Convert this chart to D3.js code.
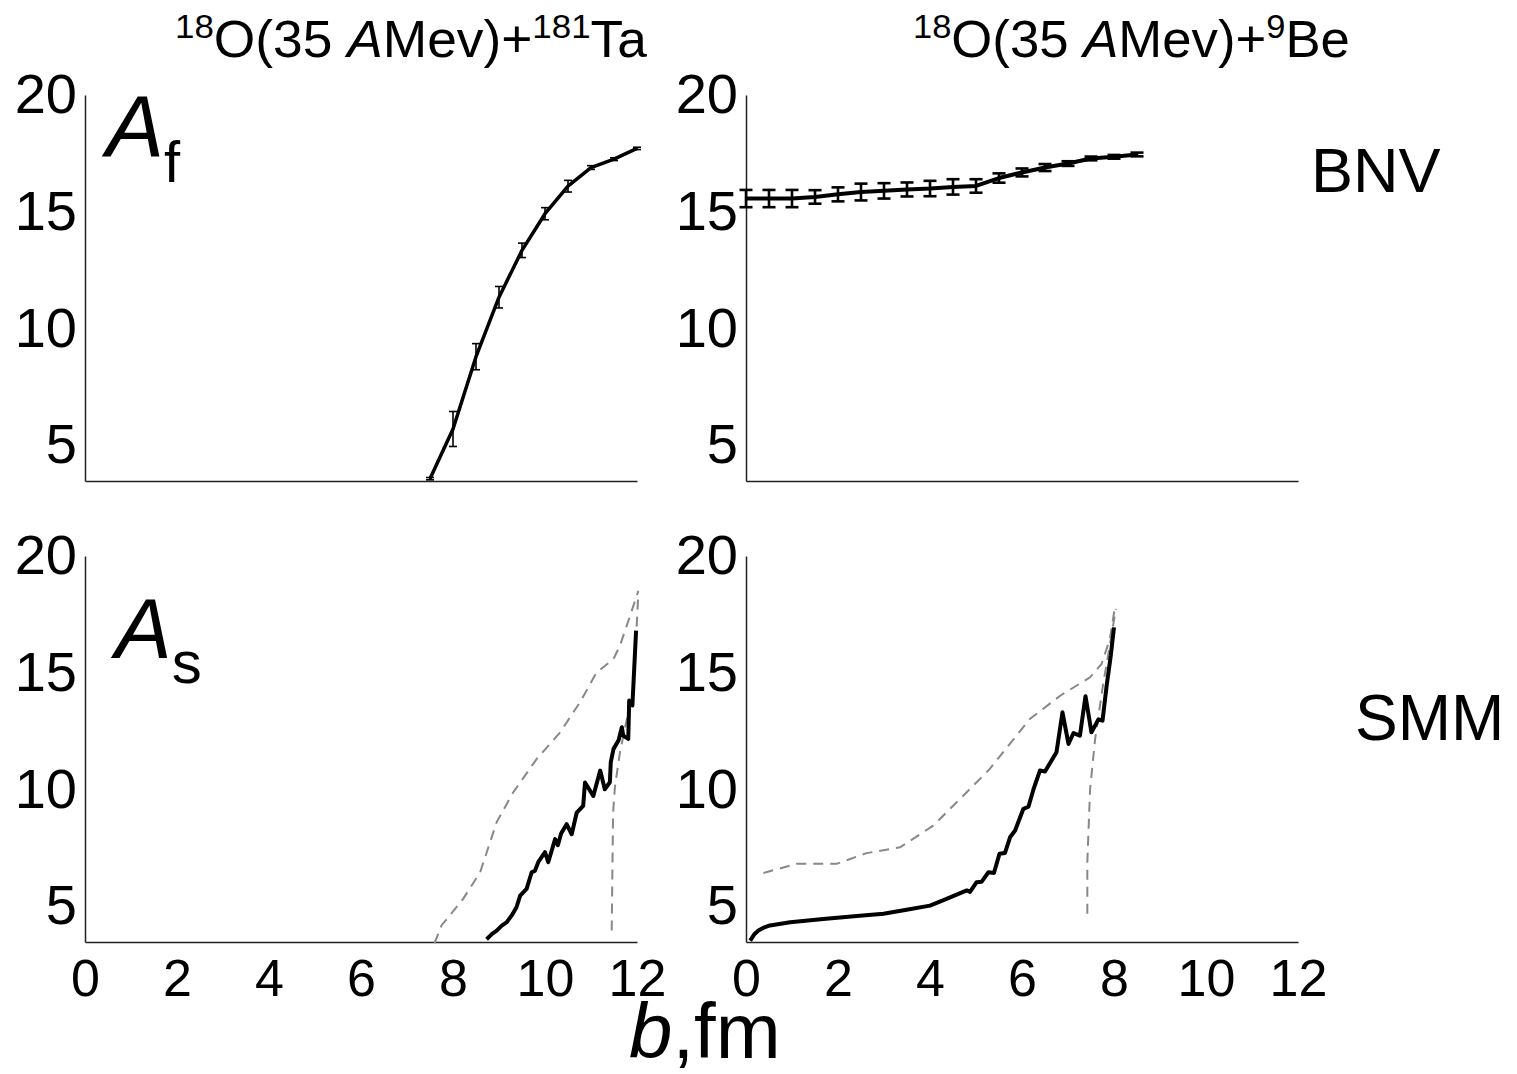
<!DOCTYPE html>
<html>
<head>
<meta charset="utf-8">
<script src="https://cdn.jsdelivr.net/npm/d3@7"></script>
<style>
  body { margin: 0; background: #fff; }
  text { font-family: "Liberation Sans", Arial, sans-serif; fill: #000; }
</style>
</head>
<body>
<div class="chart"></div>
<script>
// ---- data ----
var xTicks = [0, 2, 4, 6, 8, 10, 12];
var yTicks = [5, 10, 15, 20];

// BNV, 18O + 181Ta (with error bars)
var bTaF = [7.5, 8, 8.5, 9, 9.5, 10, 10.5, 11, 11.5, 12];
var aTaF = [3.55, 5.68, 8.78, 11.33, 13.34, 14.91, 16.09, 16.89, 17.25, 17.71];
var eTaF = [0.05, 0.75, 0.56, 0.46, 0.31, 0.26, 0.25, 0.08, 0.06, 0.05];

// BNV, 18O + 9Be (with error bars)
var bBeF = [0, 0.5, 1, 1.5, 2, 2.5, 3, 3.5, 4, 4.5, 5, 5.5, 6, 6.5, 7, 7.5, 8, 8.5];
var aBeF = [15.56, 15.56, 15.56, 15.63, 15.74, 15.84, 15.89, 15.95, 15.99, 16.06, 16.10, 16.44, 16.68, 16.89, 17.06, 17.28, 17.35, 17.45];
var eBeF = [0.37, 0.37, 0.37, 0.29, 0.3, 0.36, 0.33, 0.3, 0.33, 0.33, 0.29, 0.2, 0.17, 0.15, 0.1, 0.08, 0.08, 0.08];

// SMM, 18O + 181Ta
var bTaS = [8.73, 8.85, 8.95, 9.06, 9.17, 9.28, 9.38, 9.46, 9.6, 9.71, 9.78, 9.86, 10.0, 10.07, 10.22, 10.28, 10.35, 10.47, 10.58, 10.69, 10.83, 10.87, 11.05, 11.2, 11.3, 11.41, 11.43, 11.49, 11.6, 11.67, 11.7, 11.81, 11.83, 11.9, 11.98];
var aTaS = [3.57, 3.8, 3.94, 4.15, 4.3, 4.6, 4.94, 5.44, 5.73, 6.44, 6.5, 6.9, 7.3, 6.87, 7.86, 7.6, 8.1, 8.5, 8.07, 9.0, 9.29, 10.29, 9.71, 10.8, 10.0, 10.3, 11.16, 11.73, 12.1, 12.66, 12.3, 12.16, 13.8, 13.59, 16.8];
var bTaHi = [7.6, 7.75, 7.93, 8.22, 8.59, 8.95, 9.31, 9.82, 10.33, 10.76, 11.12, 11.49, 11.63, 11.85, 12.03];
var aTaHi = [3.4, 4.16, 4.59, 5.3, 6.44, 8.59, 9.87, 11.3, 12.44, 13.73, 15.0, 15.59, 16.16, 17.44, 18.51];
var bTaLo = [11.45, 11.48, 11.52, 11.63, 11.81, 11.92, 12.03];
var aTaLo = [3.94, 9.0, 10.1, 11.59, 13.3, 14.16, 18.44];

// SMM, 18O + 9Be
var bBeS = [0.09, 0.18, 0.27, 0.4, 0.52, 0.96, 1.68, 2.41, 2.99, 3.49, 4.0, 4.36, 4.8, 4.87, 5.01, 5.12, 5.27, 5.39, 5.51, 5.63, 5.74, 5.85, 6.03, 6.14, 6.25, 6.39, 6.5, 6.75, 6.88, 7.01, 7.12, 7.26, 7.38, 7.51, 7.66, 7.75, 7.84, 7.93, 8.0];
var aBeS = [3.51, 3.78, 3.94, 4.08, 4.16, 4.3, 4.44, 4.56, 4.66, 4.83, 5.01, 5.3, 5.66, 5.6, 6.01, 6.03, 6.44, 6.41, 7.23, 7.27, 7.94, 8.23, 9.16, 9.25, 10.0, 10.8, 10.76, 11.59, 13.3, 11.94, 12.41, 12.3, 13.99, 12.44, 12.99, 12.94, 14.44, 15.73, 16.94];
var bBeHi = [0.38, 1.1, 1.97, 2.62, 3.35, 4.07, 4.58, 5.3, 6.17, 6.83, 7.48, 7.73, 7.91, 8.02];
var aBeHi = [6.41, 6.8, 6.8, 7.26, 7.51, 8.44, 9.44, 10.87, 13.01, 14.01, 14.8, 15.37, 16.44, 17.8];
var bBeLo = [7.42, 7.42, 7.48, 7.59, 7.77, 7.91, 8.04];
var aBeLo = [4.66, 6.87, 10.0, 12.16, 14.59, 16.16, 17.73];

var svgWidth = 1517, svgHeight = 1074;
var svg = d3.select(".chart").append("svg")
  .attr("width", svgWidth)
  .attr("height", svgHeight);

function zip(bs, as, es) {
  return bs.map(function (b, i) { return { b: b, a: as[i], e: es ? es[i] : 0 }; });
}

// panel frames
var panels = [
  { left: 85,  top: 95,  showX: false },
  { left: 746, top: 95,  showX: false },
  { left: 85,  top: 556, showX: true },
  { left: 746, top: 556, showX: true }
];
var pw = 552, ph = 386;

var x = d3.scaleLinear().domain([0, 12]).range([0, pw]);
var y = d3.scaleLinear().domain([3.45, 20]).range([ph, 0]);

var line = d3.line().x(d => x(d.b)).y(d => y(d.a));

var groups = panels.map(function (p) {
  var g = svg.append("g").attr("transform", `translate(${p.left}, ${p.top})`);

  var ya = g.append("g")
    .call(d3.axisLeft(y).tickValues(yTicks).tickSize(0).tickPadding(8));
  ya.selectAll("text").style("font-size", "56px").attr("font-family", null);

  var xa = g.append("g")
    .attr("transform", `translate(0, ${ph})`)
    .call(d3.axisBottom(x).tickValues(p.showX ? xTicks : []).tickSize(0).tickPadding(17));
  xa.selectAll("text").style("font-size", "52px").attr("font-family", null);

  g.selectAll(".domain").attr("stroke", "#222").attr("stroke-width", 1.5);
  return g;
});

// error bars + curve
function drawBnv(g, data, cap, sw, lw) {
  var eb = g.append("g").attr("stroke", "#000").attr("stroke-width", sw);
  data.forEach(function (d) {
    var cx = x(d.b), y1 = y(d.a - d.e), y2 = y(d.a + d.e);
    eb.append("line").attr("x1", cx).attr("x2", cx).attr("y1", y1).attr("y2", y2);
    eb.append("line").attr("x1", cx - cap).attr("x2", cx + cap).attr("y1", y1).attr("y2", y1);
    eb.append("line").attr("x1", cx - cap).attr("x2", cx + cap).attr("y1", y2).attr("y2", y2);
  });
  g.append("path")
    .datum(data)
    .attr("fill", "none")
    .attr("stroke", "#000")
    .attr("stroke-width", lw)
    .attr("stroke-linejoin", "round")
    .attr("d", line);
}
drawBnv(groups[0], zip(bTaF, aTaF, eTaF), 4, 1.6, 3.5);
drawBnv(groups[1], zip(bBeF, aBeF, eBeF), 6.5, 2.6, 4);

function drawSmm(g, solid, hi, lo) {
  [hi, lo].forEach(function (d) {
    g.append("path")
      .datum(d)
      .attr("fill", "none")
      .attr("stroke", "#888")
      .attr("stroke-width", 2)
      .attr("stroke-dasharray", "10,7")
      .attr("d", line);
  });
  g.append("path")
    .datum(solid)
    .attr("fill", "none")
    .attr("stroke", "#000")
    .attr("stroke-width", 4)
    .attr("stroke-linejoin", "round")
    .attr("d", line);
}
drawSmm(groups[2], zip(bTaS, aTaS), zip(bTaHi, aTaHi), zip(bTaLo, aTaLo));
drawSmm(groups[3], zip(bBeS, aBeS), zip(bBeHi, aBeHi), zip(bBeLo, aBeLo));

// titles with superscripts, fitted to the figure's width
function title(parts, x0, y0, targetW) {
  var t = svg.append("text").attr("x", 0).attr("y", 0).style("font-size", "52px");
  parts.forEach(function (p) {
    var s = t.append("tspan").text(p.t);
    if (p.sup) s.style("font-size", "34px").attr("dy", -19);
    if (p.after) s.attr("dy", 19);
    if (p.it) s.style("font-style", "italic");
  });
  var w = t.node().getComputedTextLength();
  t.attr("transform", `translate(${x0}, ${y0}) scale(${targetW / w}, 1)`);
}
title([
  { t: "18", sup: true }, { t: "O(35 ", after: true }, { t: "A", it: true },
  { t: "Mev)+" }, { t: "181", sup: true }, { t: "Ta", after: true }
], 175, 57, 472);
title([
  { t: "18", sup: true }, { t: "O(35 ", after: true }, { t: "A", it: true },
  { t: "Mev)+" }, { t: "9", sup: true }, { t: "Be", after: true }
], 913, 57, 437);

// side labels
svg.append("text").attr("x", 1311).attr("y", 192).style("font-size", "63px").text("BNV");
svg.append("text").attr("x", 1355).attr("y", 740).style("font-size", "64px").text("SMM");

// panel quantity labels
var af = svg.append("text").attr("x", 106).attr("y", 157).style("font-size", "87px");
af.append("tspan").style("font-style", "italic").text("A");
af.append("tspan").attr("dy", 25).style("font-size", "58px").text("f");

var as = svg.append("text").attr("x", 115).attr("y", 658).style("font-size", "85px");
as.append("tspan").style("font-style", "italic").text("A");
as.append("tspan").attr("dy", 25).style("font-size", "60px").text("s");

// x axis label
var xl = svg.append("text").attr("x", 629).attr("y", 1058).style("font-size", "78px");
xl.append("tspan").style("font-style", "italic").text("b");
xl.append("tspan").text(",fm");
</script>
</body>
</html>
